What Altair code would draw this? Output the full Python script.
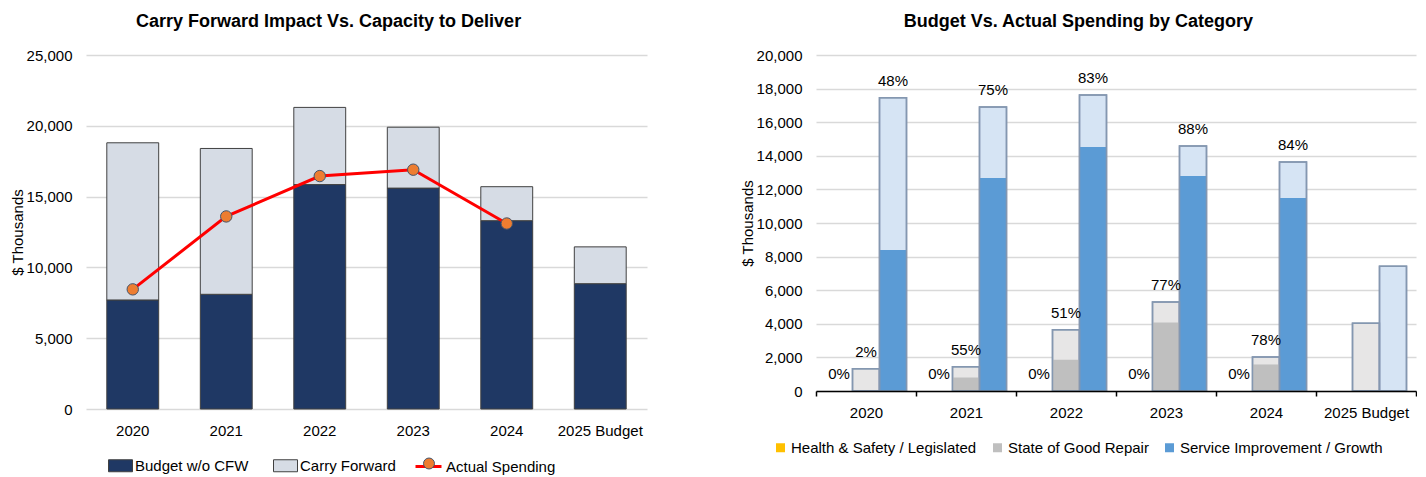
import altair as alt
import pandas as pd

FONT = "Liberation Sans"

# ---------------- data ----------------
years = ["2020", "2021", "2022", "2023", "2024", "2025 Budget"]

# left chart ($ thousands)
budget_wo_cfw = [7700, 8100, 15850, 15600, 13300, 8850]
carry_forward = [11100, 10300, 5450, 4300, 2400, 2600]
actual_years = ["2020", "2021", "2022", "2023", "2024"]
actual_spending = [8450, 13600, 16450, 16900, 13100]

# right chart ($ thousands)
categories = ["Health & Safety / Legislated", "State of Good Repair", "Service Improvement / Growth"]
hs_budget = [0, 0, 0, 0, 0, 0]
hs_actual = [0, 0, 0, 0, 0, None]
hs_pct = ["0%", "0%", "0%", "0%", "0%", ""]
sgr_budget = [1320, 1450, 3650, 5300, 2020, 4040]
sgr_actual = [27, 800, 1860, 4080, 1580, None]
sgr_pct = ["2%", "55%", "51%", "77%", "78%", ""]
si_budget = [17450, 16900, 17620, 14580, 13630, 7420]
si_actual = [8390, 12680, 14520, 12800, 11490, None]
si_pct = ["48%", "75%", "83%", "88%", "84%", ""]

left_series = ["Budget w/o CFW", "Carry Forward"]
left_colors = ["#1F3864", "#D6DCE5"]
light_colors = ["#FFE699", "#E7E6E6", "#D6E4F4"]
dark_colors = ["#FFC000", "#BFBFBF", "#5B9BD5"]

# ---------------- left chart ----------------
left_bar_df = pd.DataFrame({
    "year": years * 2,
    "series": [left_series[0]] * 6 + [left_series[1]] * 6,
    "value": budget_wo_cfw + carry_forward,
    "stack_order": [0] * 6 + [1] * 6,
})
line_df = pd.DataFrame({"year": actual_years, "actual": actual_spending})

x_left = alt.X("year:N", sort=years, title=None,
               scale=alt.Scale(paddingInner=0.445, paddingOuter=0.2225),
               axis=alt.Axis(labelAngle=0, domain=False, ticks=False, tickSize=0,
                             labelPadding=14, grid=False))
y_left_scale = alt.Scale(domain=[0, 25000], nice=False)
y_left_axis = alt.Axis(values=[0, 5000, 10000, 15000, 20000, 25000], format=",.0f",
                       title="$ Thousands", domain=False, ticks=False, tickSize=0,
                       labelPadding=14, titlePadding=1, grid=True,
                       gridColor="#D9D9D9", gridWidth=1.5)

bars_left = alt.Chart(left_bar_df).mark_bar(stroke="#404040", strokeWidth=1).encode(
    x=x_left,
    y=alt.Y("value:Q", stack="zero", scale=y_left_scale, axis=y_left_axis),
    color=alt.Color("series:N",
                    scale=alt.Scale(domain=left_series, range=left_colors),
                    legend=alt.Legend(title=None, orient="none", legendX=22, legendY=398,
                                      direction="horizontal",
                                      symbolType="M-1,-0.5H1V0.5H-1Z", symbolSize=576,
                                      symbolStrokeColor="#404040", symbolStrokeWidth=1,
                                      labelOffset=2, columnPadding=22, padding=0)),
    order=alt.Order("stack_order:Q", sort="ascending"),
)

line_left = alt.Chart(line_df).transform_calculate(series="'Actual Spending'").mark_line(
    strokeWidth=3).encode(
    x=x_left,
    y=alt.Y("actual:Q", scale=y_left_scale, axis=y_left_axis),
    stroke=alt.Stroke("series:N",
                      scale=alt.Scale(domain=["Actual Spending"], range=["#FF0000"]),
                      legend=alt.Legend(title=None, orient="none", legendX=328, legendY=397,
                                        symbolType="stroke", symbolSize=676,
                                        symbolStrokeWidth=3, labelOffset=3, padding=0)),
)

points_left = alt.Chart(line_df).transform_calculate(series="'Actual Spending'").mark_point(
    shape="circle", filled=True, size=130, stroke="#44546A", strokeWidth=1, opacity=1).encode(
    x=x_left,
    y=alt.Y("actual:Q", scale=y_left_scale, axis=y_left_axis),
    fill=alt.Fill("series:N",
                  scale=alt.Scale(domain=["Actual Spending"], range=["#ED7D31"]),
                  legend=alt.Legend(title=None, orient="none", legendX=335.5, legendY=401,
                                    symbolType="circle", symbolSize=120,
                                    symbolStrokeColor="#44546A", symbolStrokeWidth=1,
                                    labelExpr="''", padding=0)),
)

left = alt.layer(bars_left, line_left, points_left).properties(
    width=561, height=354,
    title=alt.TitleParams("Carry Forward Impact Vs. Capacity to Deliver", frame="bounds",
                          anchor="middle", offset=17),
).resolve_legend(color="independent", stroke="independent", fill="independent")

# ---------------- right chart ----------------
rows = []
for i, yr in enumerate(years):
    for cat, b, a, p in zip(categories,
                            [hs_budget[i], sgr_budget[i], si_budget[i]],
                            [hs_actual[i], sgr_actual[i], si_actual[i]],
                            [hs_pct[i], sgr_pct[i], si_pct[i]]):
        rows.append({"year": yr, "cat": cat, "budget": b, "actual": a, "pct": p})
right_df = pd.DataFrame(rows)

x_right = alt.X("year:N", sort=years, title=None,
                scale=alt.Scale(paddingInner=0, paddingOuter=0),
                axis=alt.Axis(labelAngle=0, domain=True, domainColor="#000000", domainWidth=1.5,
                              ticks=True, tickColor="#000000", tickWidth=1.5, tickSize=5,
                              tickBand="extent", labelPadding=9, grid=False, zindex=1))
xoff = alt.XOffset("cat:N", sort=categories,
                   scale=alt.Scale(paddingInner=0, paddingOuter=0.352))
y_right_scale = alt.Scale(domain=[0, 20000], nice=False)
y_right_axis = alt.Axis(values=list(range(0, 20001, 2000)), format=",.0f", title="$ Thousands",
                        domain=False, ticks=False, tickSize=0, labelPadding=14, titlePadding=1,
                        grid=True, gridColor="#D9D9D9", gridWidth=1.5)

base_r = alt.Chart(right_df)

budget_r = base_r.transform_filter("datum.budget > 0").mark_bar(
    stroke="#8497B0", strokeWidth=1.5).encode(
    x=x_right, xOffset=xoff,
    y=alt.Y("budget:Q", scale=y_right_scale, axis=y_right_axis),
    fill=alt.Fill("cat:N", scale=alt.Scale(domain=categories, range=light_colors), legend=None),
)
actual_r = base_r.transform_filter("isValid(datum.actual)").mark_bar().encode(
    x=x_right, xOffset=xoff,
    y=alt.Y("actual:Q", scale=y_right_scale, axis=y_right_axis),
    color=alt.Color("cat:N", scale=alt.Scale(domain=categories, range=dark_colors),
                    legend=alt.Legend(title=None, orient="none", legendX=-43, legendY=385,
                                      direction="horizontal", symbolType="square",
                                      symbolSize=81, symbolStrokeWidth=0, labelOffset=3,
                                      columnPadding=13, padding=0)),
)
outline_r = base_r.transform_filter("datum.budget > 0").mark_bar(
    fillOpacity=0, stroke="#8497B0", strokeWidth=1.5).encode(
    x=x_right, xOffset=xoff,
    y=alt.Y("budget:Q", scale=y_right_scale, axis=y_right_axis),
)
text_r = base_r.transform_filter("datum.pct != ''").mark_text(
    dy=-17, baseline="middle", fontSize=15, color="black").encode(
    x=x_right, xOffset=xoff,
    y=alt.Y("budget:Q", scale=y_right_scale, axis=y_right_axis),
    text="pct:N",
)

right = alt.layer(budget_r, actual_r, outline_r, text_r).properties(
    width=600, height=336,
    title=alt.TitleParams("Budget Vs. Actual Spending by Category", frame="bounds",
                          anchor="middle", offset=17),
).resolve_scale(color="independent", fill="independent")

chart = alt.hconcat(left, right, spacing=93).resolve_scale(
    color="independent", fill="independent", stroke="independent",
    x="independent", y="independent"
).resolve_legend(
    color="independent", fill="independent", stroke="independent"
).properties(
    padding={"left": 2, "top": 5, "right": 0, "bottom": 0}
).configure(font=FONT).configure_view(stroke=None).configure_axis(
    labelFont=FONT, titleFont=FONT, labelColor="black", titleColor="black",
    labelFontSize=15, titleFontSize=15, titleFontWeight="normal"
).configure_legend(
    labelFont=FONT, labelColor="black", labelFontSize=15, labelLimit=400
).configure_title(
    font=FONT, fontSize=18, fontWeight="bold", color="black"
)

chart.save("out.html", embed_options={"renderer": "svg", "actions": False})
